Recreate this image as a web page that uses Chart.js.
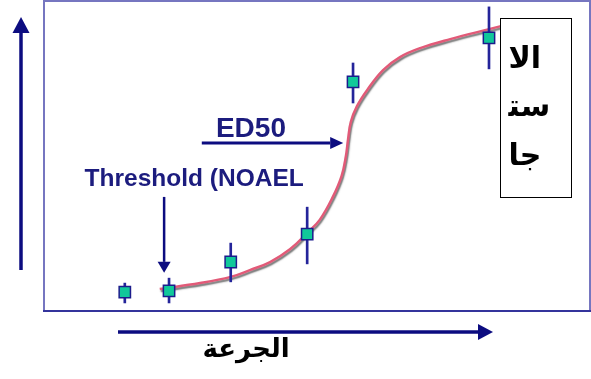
<!DOCTYPE html>
<html>
<head>
<meta charset="utf-8">
<script src="https://cdn.jsdelivr.net/npm/chart.js@4.4.1/dist/chart.umd.min.js"></script>
<style>
  html, body { margin: 0; padding: 0; background: #ffffff; }
  canvas { display: block; }
</style>
</head>
<body>
<canvas id="c" width="591" height="379"></canvas>
<script>
// Dose groups: observed mean response with its error range
const doseX     = [1.48, 2.29, 3.42, 4.82, 5.66, 8.15];
const responseY = [6.1,  6.5,  15.8, 24.8, 73.9, 88.1];
const errLow    = [2.6,  2.6,  9.4,  15.2, 67.1, 78.1];
const errHigh   = [9.0,  10.6, 21.9, 33.5, 80.0, 98.1];

// Fitted dose-response curve
const curveX = [2.12, 2.86, 3.42, 3.77, 4.14, 4.51, 4.82, 5.05, 5.29, 5.45, 5.53, 5.57, 5.62, 5.73, 5.92, 6.21, 6.52, 6.89, 7.44, 8.17, 8.53];
const curveY = [7.1,  9.0,  11.0, 13.2, 15.8, 20.0, 25.2, 29.4, 36.8, 43.5, 50.0, 55.5, 61.0, 66.0, 71.3, 77.7, 81.9, 84.8, 87.7, 91.0, 92.6];

// Labels
const xAxisLabel = 'الجرعة';
const yAxisLines = ['الا', '\uFEB3\uFE98', 'جا'];
const ed50Label = 'ED50';
const thresholdLabel = 'Threshold (NOAEL';

// Annotation anchors in data units
const ed50Arrow = { x1: 2.89, x2: 5.48, y: 54.2 };
const ed50Text = { x: 3.79, y: 56.1 };
const thresholdArrow = { x: 2.20, y1: 36.8, y2: 12.3 };
const thresholdText = { x: 2.75, y: 40.3 };

const NAVY = '#0c0c80';
const TEXT_NAVY = '#1c1c7e';

function arrow(ctx, x1, y1, x2, y2, lw, headLen, headW, color) {
  const ang = Math.atan2(y2 - y1, x2 - x1);
  const bx = x2 - Math.cos(ang) * headLen;
  const by = y2 - Math.sin(ang) * headLen;
  ctx.save();
  ctx.strokeStyle = color;
  ctx.fillStyle = color;
  ctx.lineWidth = lw;
  ctx.beginPath();
  ctx.moveTo(x1, y1);
  ctx.lineTo(bx, by);
  ctx.stroke();
  ctx.beginPath();
  ctx.moveTo(x2, y2);
  ctx.lineTo(bx + Math.sin(ang) * headW / 2, by - Math.cos(ang) * headW / 2);
  ctx.lineTo(bx - Math.sin(ang) * headW / 2, by + Math.cos(ang) * headW / 2);
  ctx.closePath();
  ctx.fill();
  ctx.restore();
}

// Frame around the plotting area
const framePlugin = {
  id: 'frame',
  beforeDatasetsDraw(chart) {
    const { ctx, chartArea: a } = chart;
    ctx.save();
    ctx.lineWidth = 2;
    ctx.strokeStyle = '#7676c0';
    ctx.beginPath();
    ctx.moveTo(a.left, a.bottom);
    ctx.lineTo(a.left, a.top);
    ctx.lineTo(a.right, a.top);
    ctx.lineTo(a.right, a.bottom);
    ctx.stroke();
    ctx.strokeStyle = '#34349c';
    ctx.beginPath();
    ctx.moveTo(a.left - 1, a.bottom);
    ctx.lineTo(a.right + 1, a.bottom);
    ctx.stroke();
    ctx.restore();
  }
};

// Soft grey drop shadow under the fitted curve
const shadowPlugin = {
  id: 'curveShadow',
  beforeDatasetDraw(chart, args) {
    if (args.index !== 2) return;
    const ctx = chart.ctx;
    ctx.save();
    ctx.shadowColor = 'rgba(70,70,70,0.75)';
    ctx.shadowOffsetX = 1;
    ctx.shadowOffsetY = 2;
    ctx.shadowBlur = 1.5;
  },
  afterDatasetDraw(chart, args) {
    if (args.index !== 2) return;
    chart.ctx.restore();
  }
};

// Axis arrows, annotations and labels
const decorPlugin = {
  id: 'decor',
  afterDraw(chart) {
    const { ctx, chartArea: a, scales: { x, y } } = chart;

    // axis arrows outside the frame
    arrow(ctx, a.left - 23, a.bottom - 41, a.left - 23, a.top + 16, 3.5, 16, 17, NAVY);
    arrow(ctx, a.left + 74, a.bottom + 21, a.left + 449, a.bottom + 21, 3.5, 15, 16, NAVY);

    // ED50 arrow and label
    arrow(ctx, x.getPixelForValue(ed50Arrow.x1), y.getPixelForValue(ed50Arrow.y),
          x.getPixelForValue(ed50Arrow.x2), y.getPixelForValue(ed50Arrow.y), 3, 13, 12, NAVY);
    // threshold arrow
    arrow(ctx, x.getPixelForValue(thresholdArrow.x), y.getPixelForValue(thresholdArrow.y1),
          x.getPixelForValue(thresholdArrow.x), y.getPixelForValue(thresholdArrow.y2), 2.5, 11, 13, NAVY);

    ctx.save();
    ctx.fillStyle = TEXT_NAVY;
    ctx.textAlign = 'center';
    ctx.textBaseline = 'alphabetic';
    ctx.font = 'bold 28px "Liberation Sans", Arial, sans-serif';
    ctx.fillText(ed50Label, x.getPixelForValue(ed50Text.x), y.getPixelForValue(ed50Text.y));
    ctx.font = 'bold 24.5px "Liberation Sans", Arial, sans-serif';
    ctx.fillText(thresholdLabel, x.getPixelForValue(thresholdText.x), y.getPixelForValue(thresholdText.y));

    // dose label under the horizontal arrow
    ctx.fillStyle = '#000000';
    ctx.font = 'bold 26px "DejaVu Sans", sans-serif';
    ctx.fillText(xAxisLabel, a.left + 202, a.bottom + 46);
    ctx.restore();

    // response label box
    const bx = a.left + 456.5, by = a.top + 17.5, bw = 71, bh = 179;
    ctx.save();
    ctx.fillStyle = '#ffffff';
    ctx.fillRect(bx, by, bw, bh);
    ctx.strokeStyle = '#000000';
    ctx.lineWidth = 1;
    ctx.strokeRect(bx, by, bw, bh);
    ctx.fillStyle = '#000000';
    ctx.font = 'bold 30px "DejaVu Sans", sans-serif';
    ctx.textAlign = 'left';
    ctx.textBaseline = 'alphabetic';
    const baselines = [49, 97, 146];
    yAxisLines.forEach((t, i) => ctx.fillText(t, bx + 8, by + baselines[i]));
    ctx.restore();
  }
};

new Chart(document.getElementById('c'), {
  type: 'scatter',
  data: {
    datasets: [
      {
        type: 'scatter',
        data: doseX.map((v, i) => ({ x: v, y: responseY[i] })),
        pointStyle: 'rect',
        pointRadius: 8,
        backgroundColor: '#10c89a',
        borderColor: '#1c1c8c',
        borderWidth: 1.5,
        order: 0
      },
      {
        type: 'bar',
        data: doseX.map((v, i) => ({ x: v, y: [errLow[i], errHigh[i]] })),
        backgroundColor: '#24249a',
        borderWidth: 0,
        barThickness: 2,
        grouped: false,
        order: 1
      },
      {
        type: 'line',
        data: curveX.map((v, i) => ({ x: v, y: curveY[i] })),
        borderColor: '#e25a78',
        borderWidth: 2.5,
        pointRadius: 0,
        fill: false,
        tension: 0.4,
        order: 2
      }
    ]
  },
  options: {
    responsive: false,
    devicePixelRatio: 1,
    animation: false,
    events: [],
    layout: { autoPadding: false, padding: { left: 44, right: 1, top: 1, bottom: 68 } },
    scales: {
      x: { type: 'linear', min: 0, max: 10, display: false, offset: false },
      y: { type: 'linear', min: 0, max: 100, display: false }
    },
    plugins: { legend: { display: false }, tooltip: { enabled: false } }
  },
  plugins: [framePlugin, shadowPlugin, decorPlugin]
});
</script>
</body>
</html>
